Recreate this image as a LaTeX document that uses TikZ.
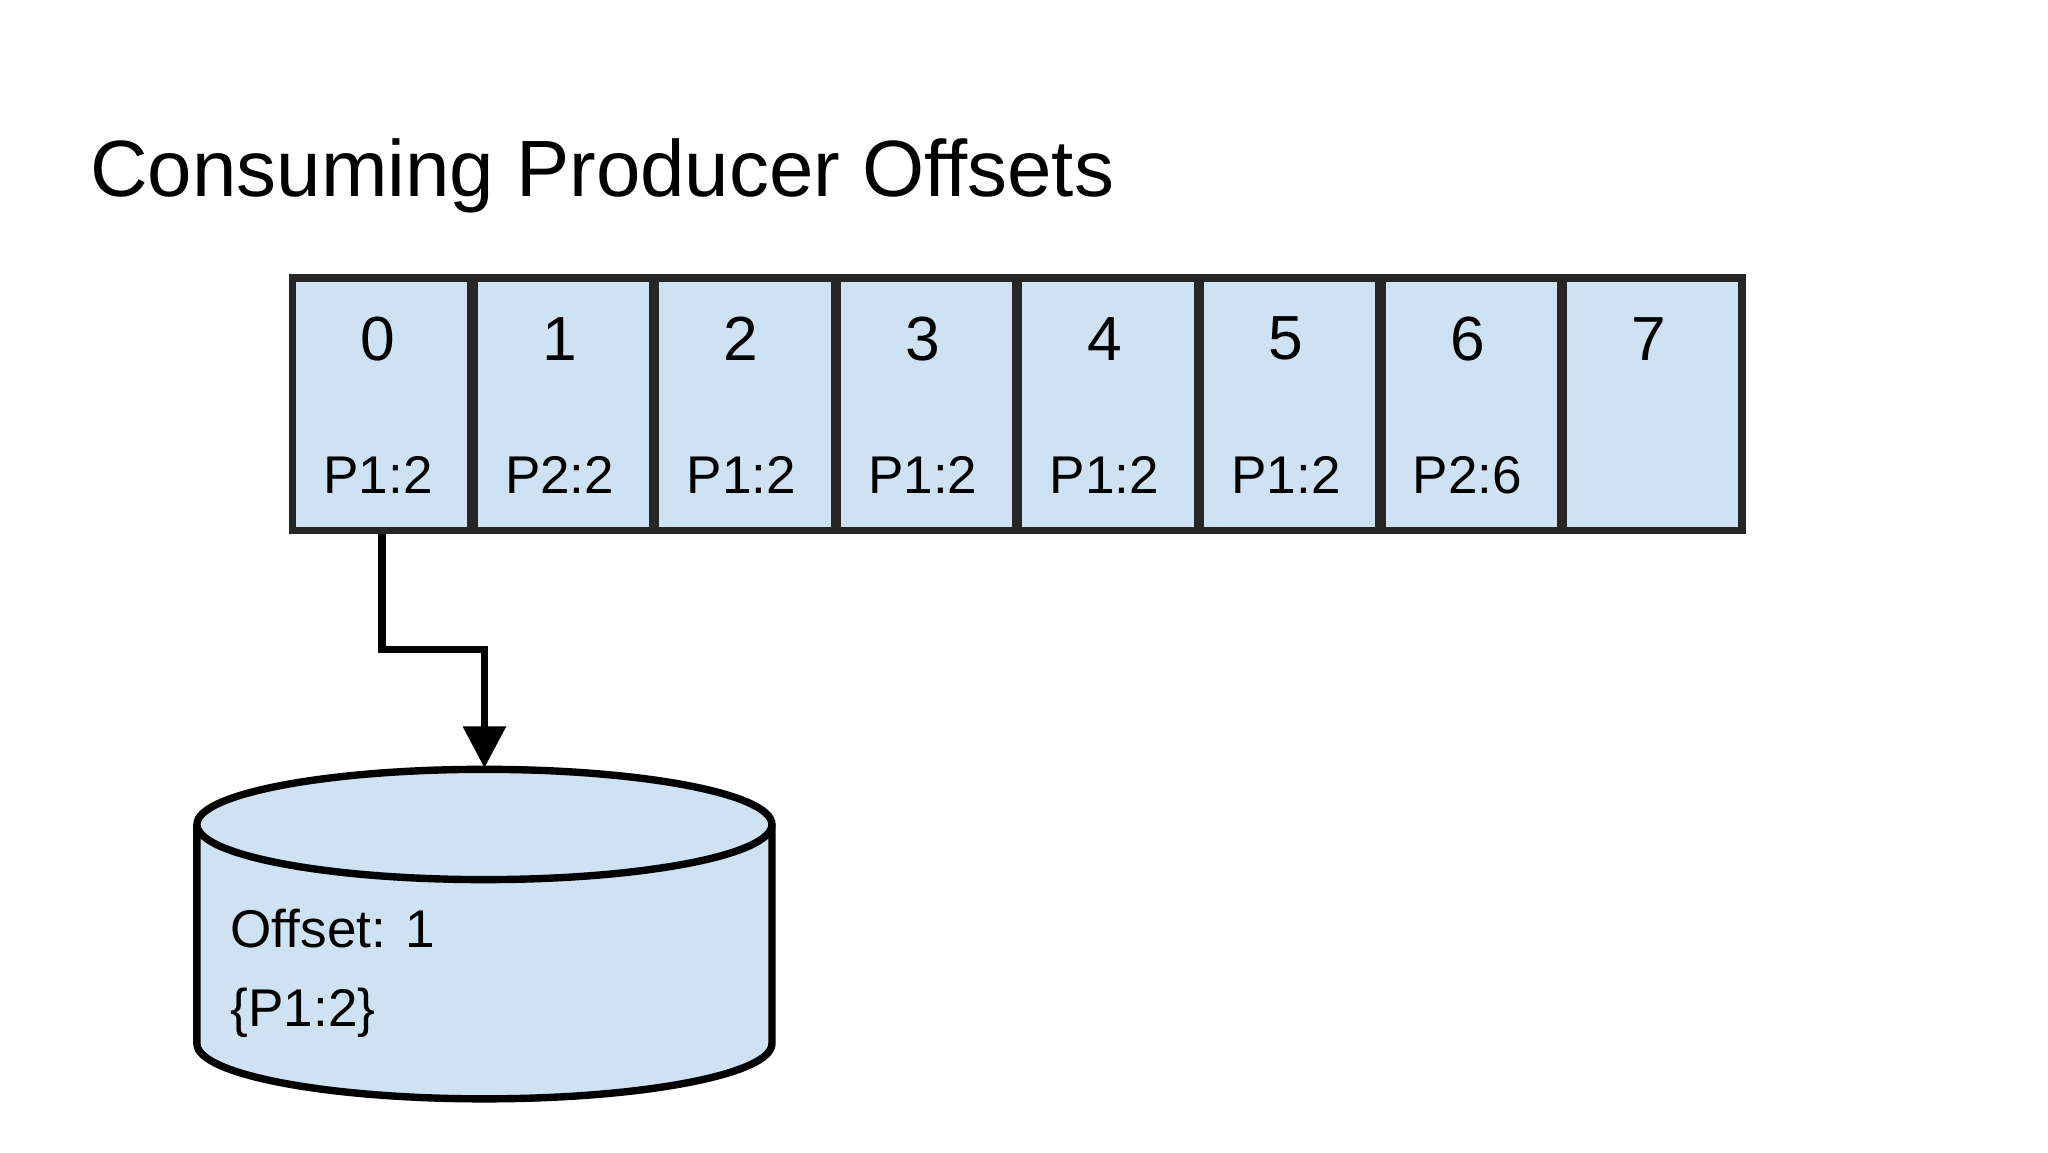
\documentclass[tikz,border=0pt]{standalone}
\usepackage{fontspec}
\setmainfont{Liberation Sans}
\usetikzlibrary{arrows.meta}
\definecolor{cellblue}{HTML}{CFE2F3}
\begin{document}
\begin{tikzpicture}[x=0.01cm,y=-0.01cm,
  cell/.style={draw=black!85,line width=1.6pt,fill=cellblue,minimum width=1.36cm,minimum height=1.92cm,inner sep=0pt,anchor=north west},
  num/.style={font=\fontsize{13.5}{16}\selectfont},
  lab/.style={font=\fontsize{11.5}{14}\selectfont}]
\useasboundingbox (0,0) rectangle (1560,877.5);
\node[anchor=base west,font=\fontsize{17.3}{21}\selectfont,inner sep=0pt] (title) at (68,150) {Consuming Producer Offsets};
\foreach \i/\n/\l in {0/0/P1:2,1/1/P2:2,2/2/P1:2,3/3/P1:2,4/4/P1:2,5/5/P1:2,6/6/P2:6,7/7/} {
  \node[cell] (c\i) at ({220+\i*138.3},209) {};
  \node[num] (n\i) at ({288+\i*138.3},258) {\n};
  \node[lab] (l\i) at ({288+\i*138.3},362) {\l};
}
% cylinder
\draw[line width=1.6pt,fill=cellblue] (150,628) -- (150,795) arc[start angle=180,end angle=0,x radius=219,y radius=42] -- (588,628);
\draw[line width=1.6pt,fill=cellblue] (369,628) ellipse[x radius=219,y radius=42];
\coordinate (dbtop) at (369,585);
\node[anchor=north west,align=left,lab,inner sep=0pt] (dbtext) at (175,692) {Offset: 1\\[3pt]\{P1:2\}};
\draw[line width=1.6pt,-{Triangle[length=9pt,width=9pt]}] (c0.south) -- ++(0,88) -| (dbtop);
\end{tikzpicture}
\end{document}
